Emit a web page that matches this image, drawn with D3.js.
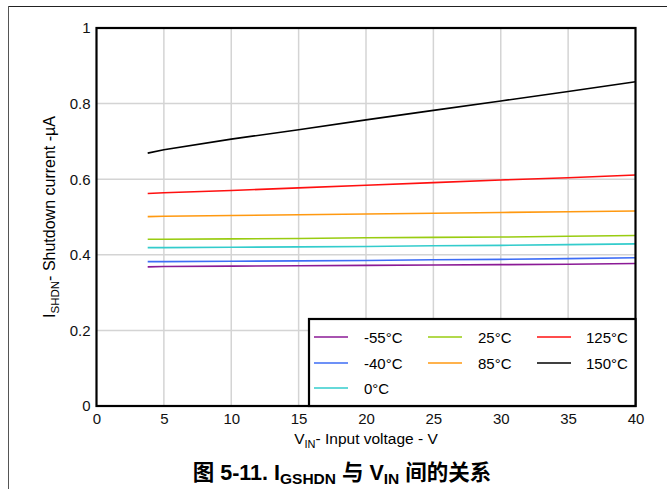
<!DOCTYPE html>
<html>
<head>
<meta charset="utf-8">
<script src="https://cdn.jsdelivr.net/npm/d3@7"></script>
<style>
body { margin: 0; background: #fff; }
svg { display: block; font-family: "Liberation Sans", Arial, sans-serif; }
</style>
</head>
<body>
<script>
// input voltage (V)
var vin = [3.8, 5, 10, 15, 20, 25, 30, 35, 40];

var series = ['-55°C', '-40°C', '0°C', '25°C', '85°C', '125°C', '150°C'];
var colors = ['#8b1a96', '#3d6cf5', '#33cccc', '#99cc11', '#ff9910', '#ff1010', '#000000'];

// shutdown current (uA), one list per temperature
var iM55 = [0.368, 0.369, 0.370, 0.371, 0.372, 0.373, 0.374, 0.375, 0.377];
var iM40 = [0.382, 0.382, 0.383, 0.384, 0.385, 0.387, 0.388, 0.390, 0.392];
var i0 = [0.419, 0.419, 0.420, 0.421, 0.422, 0.424, 0.425, 0.427, 0.429];
var i25 = [0.441, 0.441, 0.442, 0.443, 0.445, 0.446, 0.447, 0.449, 0.451];
var i85 = [0.501, 0.502, 0.504, 0.506, 0.508, 0.510, 0.512, 0.514, 0.516];
var i125 = [0.562, 0.564, 0.570, 0.577, 0.584, 0.591, 0.598, 0.604, 0.611];
var i150 = [0.669, 0.678, 0.706, 0.731, 0.757, 0.782, 0.807, 0.832, 0.858];
var values = [iM55, iM40, i0, i25, i85, i125, i150];

var xTicks = [0, 5, 10, 15, 20, 25, 30, 35, 40];
var yTicks = [0, 0.2, 0.4, 0.6, 0.8, 1];

var W = 667, H = 489;
var pLeft = 96.5, pRight = 635.5, pTop = 28, pBottom = 406;

var svg = d3.select('body')
	.append('svg')
	.attr('width', W)
	.attr('height', H);

// page frame lines
svg.append('line')
	.attr('x1', 8).attr('x2', W).attr('y1', 6.5).attr('y2', 6.5)
	.style('stroke', '#222').style('stroke-width', 1);
svg.append('line')
	.attr('x1', 8.5).attr('x2', 8.5).attr('y1', 6).attr('y2', H)
	.style('stroke', '#555').style('stroke-width', 1);

var x = d3.scaleLinear().domain([0, 40]).range([pLeft, pRight]);
var y = d3.scaleLinear().domain([0, 1]).range([pBottom, pTop]);

// grid
svg.selectAll('.vgrid')
	.data(xTicks.slice(1, -1))
	.enter().append('line')
	.attr('x1', function(d){ return x(d); })
	.attr('x2', function(d){ return x(d); })
	.attr('y1', pTop).attr('y2', pBottom)
	.style('stroke', '#d4d4d4').style('stroke-width', 1.5);
svg.selectAll('.hgrid')
	.data(yTicks.slice(1, -1))
	.enter().append('line')
	.attr('x1', pLeft).attr('x2', pRight)
	.attr('y1', function(d){ return y(d); })
	.attr('y2', function(d){ return y(d); })
	.style('stroke', '#d4d4d4').style('stroke-width', 1.5);

// axes (labels only, the frame is drawn separately)
var xAxis = d3.axisBottom(x).tickValues(xTicks).tickSize(0).tickPadding(7);
var gx = svg.append('g').attr('transform', 'translate(0,' + pBottom + ')').call(xAxis);
var yAxis = d3.axisLeft(y).tickValues(yTicks).tickSize(0).tickPadding(6)
	.tickFormat(function(d){ return d === 0 || d === 1 ? d : d3.format('.1f')(d); });
var gy = svg.append('g').attr('transform', 'translate(' + pLeft + ',0)').call(yAxis);
[gx, gy].forEach(function(g){
	g.select('.domain').remove();
	g.selectAll('text').style('font-size', '15px').style('fill', '#111')
		.style('font-family', '"Liberation Sans", Arial, sans-serif');
});

// lines
var line = d3.line()
	.x(function(d, i){ return x(vin[i]); })
	.y(function(d){ return y(d); });
svg.selectAll('.curve')
	.data(values)
	.enter().append('path')
	.attr('d', line)
	.style('fill', 'none')
	.style('stroke', function(d, i){ return colors[i]; })
	.style('stroke-width', 1.6);

// frame
svg.append('rect')
	.attr('x', pLeft).attr('y', pTop)
	.attr('width', pRight - pLeft).attr('height', pBottom - pTop)
	.style('fill', 'none').style('stroke', '#000').style('stroke-width', 2.2);

// legend
var lg = svg.append('g');
lg.append('rect')
	.attr('x', 309).attr('y', 319)
	.attr('width', pRight - 309).attr('height', pBottom - 319)
	.style('fill', '#fff').style('stroke', '#000').style('stroke-width', 2.2);
var colX = [314, 428, 537];
var rowY = [337, 363, 388];
var items = lg.selectAll('.item')
	.data(series)
	.enter().append('g')
	.attr('transform', function(d, i){
		var c = i < 3 ? 0 : (i < 5 ? 1 : 2);
		var r = i < 3 ? i : (i < 5 ? i - 3 : i - 5);
		return 'translate(' + colX[c] + ',' + rowY[r] + ')';
	});
items.append('line')
	.attr('x1', 0).attr('x2', 34).attr('y1', 0).attr('y2', 0)
	.style('stroke', function(d, i){ return colors[i]; })
	.style('stroke-width', 1.6);
items.append('text')
	.attr('x', function(d, i){ return i >= 5 ? 49 : 50; })
	.attr('y', 5.5)
	.style('font-size', '15px')
	.text(function(d){ return d; });

// axis titles
var xt = svg.append('text')
	.attr('x', 366).attr('y', 444)
	.attr('text-anchor', 'middle')
	.style('font-size', '15.5px');
xt.append('tspan').text('V');
xt.append('tspan').attr('dy', 4).style('font-size', '11px').text('IN');
xt.append('tspan').attr('dy', -4).text('- Input voltage - V');

var yt = svg.append('text')
	.attr('transform', 'translate(55,217) rotate(-90)')
	.attr('text-anchor', 'middle')
	.style('font-size', '16px');
yt.append('tspan').text('I');
yt.append('tspan').attr('dy', 4).style('font-size', '11.5px').text('SHDN');
yt.append('tspan').attr('dy', -4).text('- Shutdown current -µA');

// caption
var cap = svg.append('text')
	.attr('x', 342).attr('y', 480)
	.attr('text-anchor', 'middle')
	.style('font-size', '21.5px')
	.style('font-weight', 'bold')
	.style('font-family', '"Liberation Sans", "Noto Sans CJK SC", sans-serif');
cap.append('tspan').text('图 5-11. I');
cap.append('tspan').attr('dy', 4).style('font-size', '15.5px').text('GSHDN');
cap.append('tspan').attr('dy', -4).text(' 与 V');
cap.append('tspan').attr('dy', 4).style('font-size', '15.5px').text('IN');
cap.append('tspan').attr('dy', -4).text(' 间的关系');
</script>
</body>
</html>
